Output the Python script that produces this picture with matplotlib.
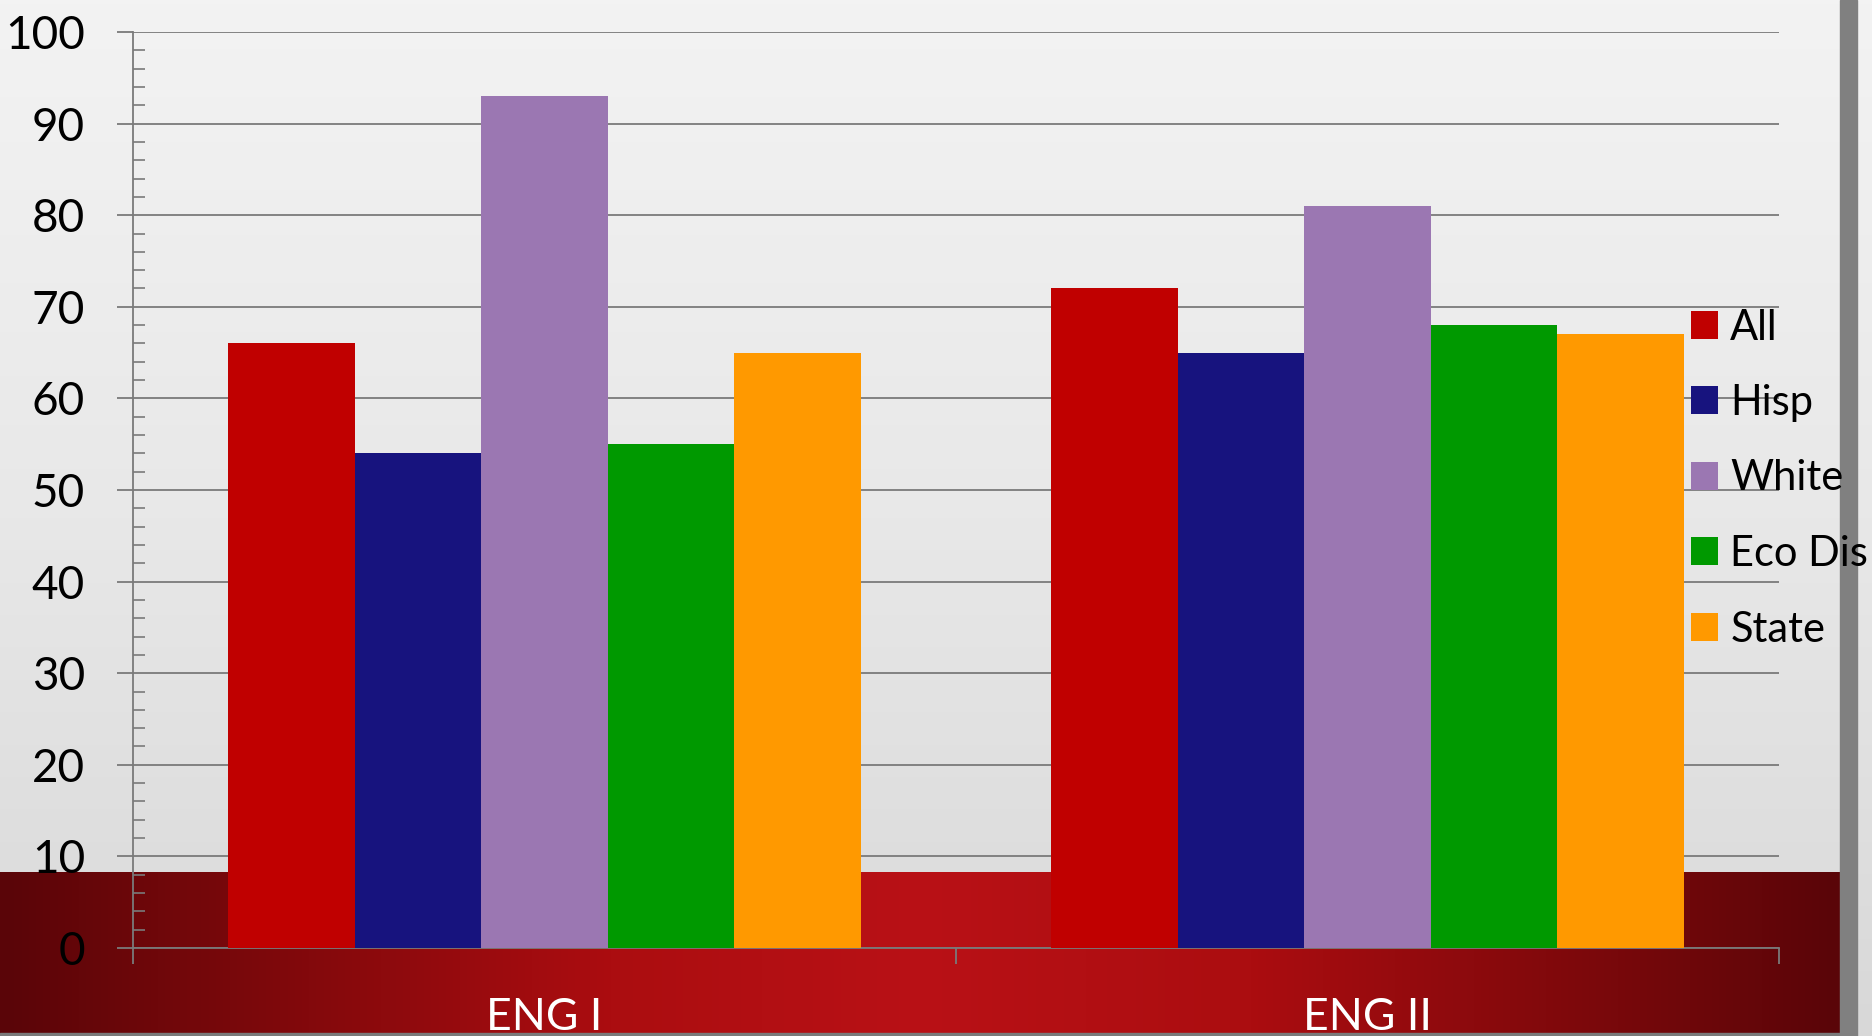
import numpy as np
import matplotlib
matplotlib.use('Agg')
import matplotlib.pyplot as plt
from matplotlib.colors import LinearSegmentedColormap
from matplotlib.patches import Rectangle
from matplotlib.ticker import MultipleLocator

# ---- data ----
categories = ['ENG I', 'ENG II']
series = ['All', 'Hisp', 'White', 'Eco Dis', 'State']
all_vals = [66, 72]
hisp_vals = [54, 65]
white_vals = [93, 81]
ecodis_vals = [55, 68]
state_vals = [65, 67]
colors = ['#C00000', '#17137E', '#9B77B2', '#009900', '#FF9900']
values = [all_vals, hisp_vals, white_vals, ecodis_vals, state_vals]

FONT = ['Lato', 'DejaVu Sans']
plt.rcParams['font.family'] = FONT

W, H = 1872, 1036
fig = plt.figure(figsize=(W / 100, H / 100), dpi=100)

# ---- background layer ----
bg = fig.add_axes([0, 0, 1, 1], zorder=0)
grad = np.linspace(0, 1, 256).reshape(-1, 1)
cmap_bg = LinearSegmentedColormap.from_list('bg', ['#f3f3f3', '#e8e8e8', '#d8d8d8'])
bg.imshow(grad, cmap=cmap_bg, extent=[0, W, H, 0], aspect='auto', origin='upper')
band = np.linspace(0, 1, 512).reshape(1, -1)
cmap_band = LinearSegmentedColormap.from_list(
    'band', [(0.0, '#5a0508'), (0.33, '#ab0d10'), (0.5, '#b91116'),
             (0.68, '#ab0d10'), (1.0, '#5a0508')])
bg.imshow(band, cmap=cmap_band, extent=[0, 1841, 1034, 872], aspect='auto')
bg.add_patch(Rectangle((0, 1033), 1841, 3, color='#7a7a7a'))
bg.add_patch(Rectangle((1840, 0), 17, H, color='#808080'))
bg.set_xlim(0, W)
bg.set_ylim(H, 0)
bg.axis('off')

# ---- chart ----
ax = fig.add_axes([133 / W, 88 / H, 1646 / W, 916 / H], zorder=1)
ax.patch.set_alpha(0)
x = np.arange(len(categories))
bw = 0.1538
n = len(series)
for i, (name, vals, c) in enumerate(zip(series, values, colors)):
    ax.bar(x + (i - (n - 1) / 2) * bw, vals, bw, color=c, label=name, zorder=3)

ax.set_xlim(-0.5, 1.5)
ax.set_ylim(0, 100)
ax.yaxis.set_major_locator(MultipleLocator(10))
ax.yaxis.set_minor_locator(MultipleLocator(2))
ax.grid(axis='y', which='major', color='#7a7a7a', lw=1.3)
ax.set_axisbelow(True)
ax.tick_params(axis='y', which='major', direction='out', length=11.5, width=1.3,
               color='#7a7a7a', pad=23, labelsize=33, labelcolor='black')
ax.tick_params(axis='y', which='minor', direction='in', length=8.6, width=1.2,
               color='#7a7a7a')
ax.set_xticks([-0.5, 0.5, 1.5], labels=['', '', ''])
ax.set_xticks(x, labels=categories, minor=True)
ax.tick_params(axis='x', which='major', direction='out', length=11.5, width=1.3,
               color='#7a7a7a')
ax.tick_params(axis='x', which='minor', length=0, pad=35, labelsize=32,
               labelcolor='white')
for s in ['top', 'right']:
    ax.spines[s].set_visible(False)
for s in ['left', 'bottom']:
    ax.spines[s].set_color('#7a7a7a')
    ax.spines[s].set_linewidth(1.3)

ax.legend(loc='center left', bbox_to_anchor=(1691 / W, (H - 478.5) / H),
          bbox_transform=fig.transFigure, frameon=False, fontsize=30,
          handlelength=0.65, handleheight=0.65, handletextpad=0.29,
          labelspacing=0.9, borderpad=0, borderaxespad=0)

fig.savefig('out.png', dpi=100)
